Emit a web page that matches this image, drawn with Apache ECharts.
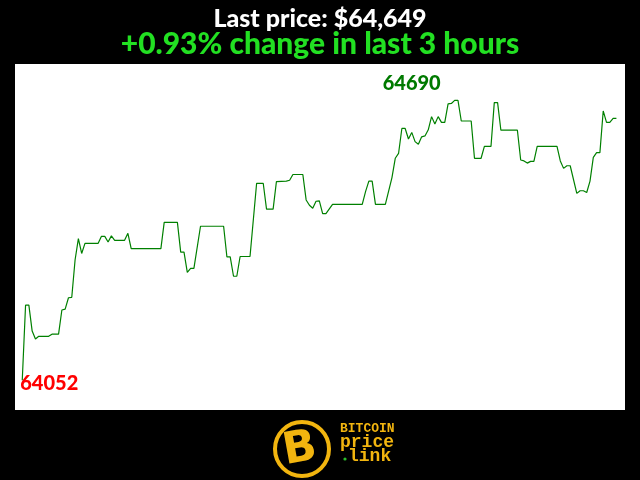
<!DOCTYPE html>
<html><head><meta charset="utf-8">
<script src="https://cdn.jsdelivr.net/npm/echarts@6/dist/echarts.min.js"></script>
<style>html,body{margin:0;padding:0;background:#000}#c{width:640px;height:480px}</style>
</head><body><div id="c"></div>
<script>
const titleText = 'Last price: $64,649';
const subtitleText = '+0.93% change in last 3 hours';
const minutes = [0,1,2,3,4,5,8,9,11,12,13,14,15,16,17,18,19,23,24,25,26,27,28,31,32,33,42,43,47,48,49,50,51,52,54,61,62,63,64,65,66,69,71,73,74,76,77,80,81,82,85,86,87,88,89,90,91,92,94,103,104,105,106,107,110,112,113,114,115,116,117,118,119,120,121,122,123,124,125,126,127,128,129,130,131,132,133,136,137,139,140,142,143,144,145,150,151,152,153,154,155,156,162,163,164,165,166,168,169,170,171,172,173,174,175,176,177,178,179,180];
const prices = [64052,64223,64223,64164,64146,64152,64152,64157,64157,64212,64214,64240,64241,64326,64375,64341,64364,64364,64380,64380,64367,64381,64371,64371,64387,64352,64352,64412,64412,64344,64344,64298,64307,64307,64403,64403,64333,64333,64289,64289,64334,64334,64501,64501,64442,64442,64505,64506,64508,64521,64521,64463,64451,64444,64460,64461,64432,64432,64453,64453,64482,64506,64506,64453,64453,64514,64558,64569,64626,64626,64602,64617,64596,64590,64607,64609,64623,64653,64636,64653,64640,64640,64682,64683,64690,64690,64643,64643,64558,64558,64585,64585,64685,64685,64622,64622,64554,64552,64547,64551,64551,64585,64585,64552,64535,64541,64541,64478,64484,64484,64480,64506,64560,64571,64571,64666,64640,64640,64649,64649];
const logoWords = ['BITCOIN', 'price', 'link'];

const data = minutes.map((m, i) => [m, prices[i]]);
const chart = echarts.init(document.getElementById('c'));
chart.setOption({
  backgroundColor: '#000',
  animation: false,
  title: [
    {text: titleText, left: 'center', top: 1,
     textStyle: {color: '#fff', fontSize: 25, fontWeight: 900, fontFamily: 'Lato'}},
    {text: subtitleText, left: 'center', top: 24,
     textStyle: {color: '#22e022', fontSize: 30, fontWeight: 900, fontFamily: 'Lato'}}
  ],
  grid: {left: 15, right: 15, top: 64, bottom: 70, show: true, backgroundColor: '#fff', borderWidth: 0},
  xAxis: {type: 'value', min: -2.2, max: 182.6, show: false},
  yAxis: {type: 'value', min: 63984, max: 64773, show: false},
  series: [{
    type: 'line', data: data, showSymbol: false,
    lineStyle: {color: '#008000', width: 1.2},
    markPoint: {
      symbol: 'circle', symbolSize: 1,
      itemStyle: {color: 'rgba(0,0,0,0)'},
      data: [
        {type: 'max', label: {show: true, position: 'inside', offset: [-43, -17], color: '#007a00',
          fontSize: 20, fontWeight: 900, fontFamily: 'Lato', formatter: p => String(p.value)}},
        {type: 'min', label: {show: true, position: 'inside', offset: [27, 3], color: '#ff0000',
          fontSize: 20, fontWeight: 900, fontFamily: 'Lato', formatter: p => String(p.value)}}
      ]
    }
  }],
  graphic: [
    {type: 'circle', shape: {cx: 302, cy: 449, r: 27}, style: {fill: 'none', stroke: '#f2b50f', lineWidth: 4}},
    {type: 'text', x: 300, y: 450, rotation: 0.18,
     style: {text: 'B', fill: '#f2b50f', fontSize: 44, fontWeight: 'bold', fontFamily: 'DejaVu Sans', align: 'center', verticalAlign: 'middle'}},
    {type: 'text', x: 340, y: 429,
     style: {text: logoWords[0], fill: '#f2b50f', fontSize: 13, fontWeight: 'bold', fontFamily: 'Liberation Mono', verticalAlign: 'middle'}},
    {type: 'text', x: 340, y: 442,
     style: {text: logoWords[1], fill: '#f2b50f', fontSize: 18, fontWeight: 'bold', fontFamily: 'Liberation Mono', verticalAlign: 'middle'}},
    {type: 'text', x: 348, y: 456,
     style: {text: logoWords[2], fill: '#f2b50f', fontSize: 18, fontWeight: 'bold', fontFamily: 'Liberation Mono', verticalAlign: 'middle'}},
    {type: 'circle', shape: {cx: 345, cy: 459, r: 1.6}, style: {fill: '#2bbd2b'}}
  ]
});
</script></body></html>
